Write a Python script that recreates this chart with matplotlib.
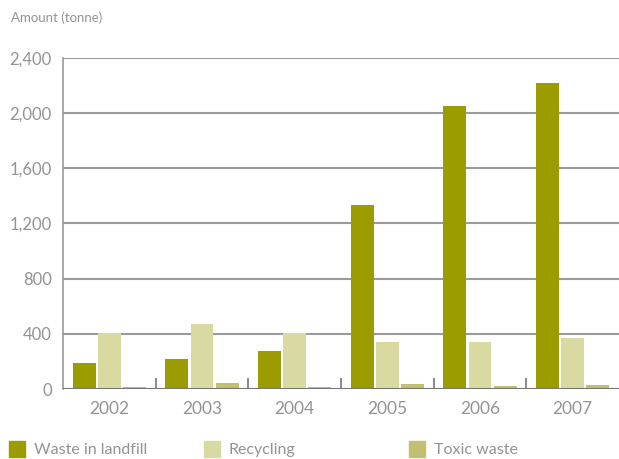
import numpy as np
import matplotlib.pyplot as plt

# data
years = ['2002', '2003', '2004', '2005', '2006', '2007']
landfill = [191, 217, 278, 1334, 2052, 2219]
recycling = [408, 471, 406, 341, 341, 370]
toxic = [15, 46, 15, 38, 22, 29]
series_names = ['Waste in landfill', 'Recycling', 'Toxic waste']
colours = ['#9a9c00', '#d9d9a2', '#c0c070']

plt.rcParams['font.family'] = ['Lato', 'DejaVu Sans']
grey_txt = '#939393'
grey_line = '#9a9a9a'

fig = plt.figure(figsize=(6.19, 4.59), dpi=100)
ax = fig.add_axes([63 / 619, 70 / 459, 556 / 619, 331 / 459])

x = np.arange(len(years))
w = 0.248
step = 0.27
for i, (vals, c) in enumerate(zip([landfill, recycling, toxic], colours)):
    ax.bar(x + (i - 1) * step, vals, width=w, color=c, zorder=3)

ax.set_xlim(-0.5, 5.5)
ax.set_ylim(0, 2400)
ax.set_yticks(range(0, 2401, 400))
ax.set_yticklabels([f'{v:,}' for v in range(0, 2401, 400)])
ax.yaxis.grid(True, color=grey_line, linewidth=1.5, zorder=0)
ax.set_axisbelow(True)

for s in ['top', 'right', 'bottom']:
    ax.spines[s].set_visible(False)
ax.spines['left'].set_color(grey_line)
ax.spines['left'].set_linewidth(1.2)
ax.axhline(0, color='#777777', linewidth=1.5, zorder=4)

ax.tick_params(axis='y', length=0, pad=8, labelsize=12, labelcolor=grey_txt)
ax.set_xticks(x)
ax.set_xticklabels(years)
ax.tick_params(axis='x', length=0, pad=9, labelsize=12.5, labelcolor=grey_txt)
# little separators between groups
ax.set_xticks(x[:-1] + 0.5, minor=True)
ax.tick_params(axis='x', which='minor', direction='in', length=8, width=1.2, color='#777777')

fig.text(11 / 619, 1 - 18 / 459, 'Amount (tonne)', fontsize=9.5, color=grey_txt, va='center')

# legend along the bottom
leg_x = [9, 204, 409]
for lx, name, c in zip(leg_x, series_names, colours):
    fig.patches.append(plt.Rectangle((lx / 619, 2 / 459), 16 / 619, 16 / 459,
                                     transform=fig.transFigure, color=c))
    fig.text((lx + 25) / 619, 9 / 459, name, fontsize=11.5, color=grey_txt, va='center')

fig.savefig('out.png', dpi=100)
